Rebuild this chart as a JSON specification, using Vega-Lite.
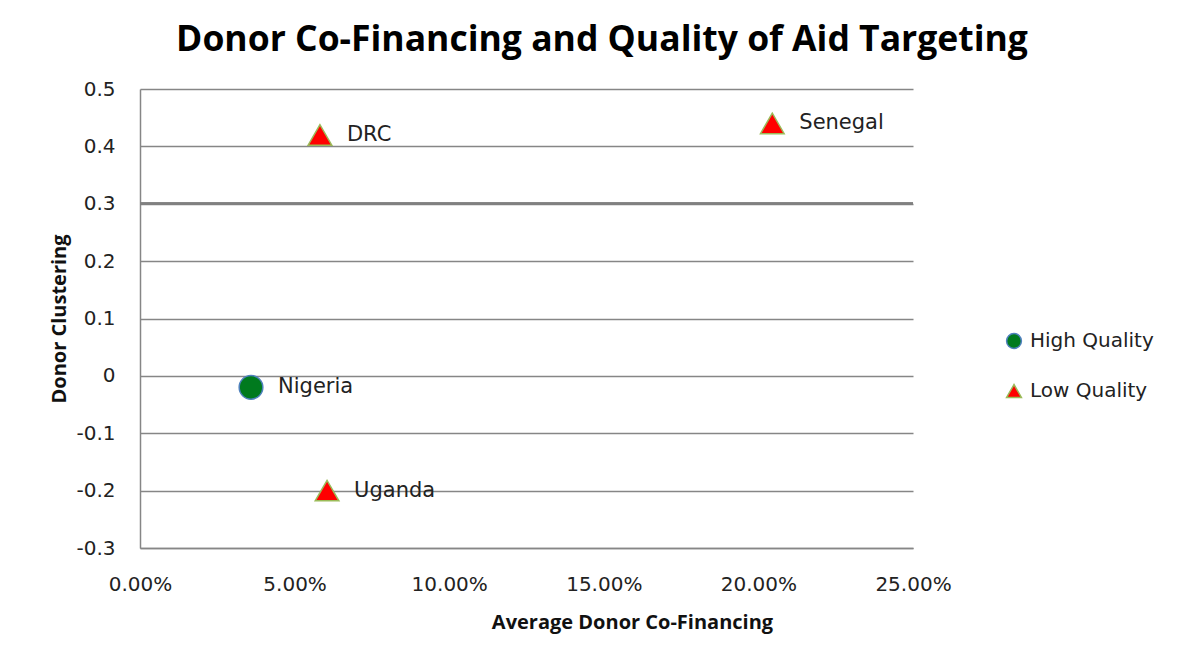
{
  "$schema": "https://vega.github.io/schema/vega-lite/v6.json",
  "width": 773,
  "height": 459,
  "padding": {"left": 49, "top": 22, "right": 10, "bottom": 10},
  "config": {
    "view": {"stroke": null},
    "font": "DejaVu Sans",
    "axis": {
      "gridColor": "#868686",
      "gridWidth": 1.5,
      "domainColor": "#868686",
      "domainWidth": 1.5,
      "ticks": false,
      "labelFont": "DejaVu Sans",
      "labelFontSize": 20,
      "labelColor": "#222222",
      "titleFont": "Open Sans",
      "titleFontSize": 20,
      "titleColor": "#111111",
      "titleFontWeight": "bold",
      "labelFlush": false,
      "labelOverlap": false
    }
  },
  "title": {
    "text": "Donor Co-Financing and Quality of Aid Targeting",
    "font": "Open Sans",
    "fontSize": 35.5,
    "fontWeight": "bold",
    "color": "#000000",
    "anchor": "middle",
    "frame": "bounds",
    "offset": 21
  },
  "data": {
    "values": [
      {"country": "Nigeria", "cofinancing": 0.0359, "clustering": -0.02, "quality": "High Quality"},
      {"country": "DRC", "cofinancing": 0.0582, "clustering": 0.42, "quality": "Low Quality"},
      {"country": "Senegal", "cofinancing": 0.2045, "clustering": 0.44, "quality": "Low Quality"},
      {"country": "Uganda", "cofinancing": 0.0605, "clustering": -0.2, "quality": "Low Quality"}
    ]
  },
  "layer": [
    {
      "mark": {"type": "rule", "color": "#808080", "strokeWidth": 2.5},
      "encoding": {"y": {"datum": 0.3, "type": "quantitative"}}
    },
    {
      "mark": {"type": "point", "filled": true, "opacity": 1, "strokeWidth": 1.5, "size": 560},
      "encoding": {
        "x": {
          "field": "cofinancing", "type": "quantitative",
          "scale": {"domain": [0, 0.25], "nice": false},
          "axis": {"values": [0, 0.05, 0.1, 0.15, 0.2, 0.25], "format": ".2%", "grid": false, "labelPadding": 26, "titlePadding": 18, "titleX": 492},
          "title": "Average Donor Co-Financing"
        },
        "y": {
          "field": "clustering", "type": "quantitative",
          "scale": {"domain": [-0.3, 0.5], "nice": false, "zero": false},
          "axis": {"values": [-0.3, -0.2, -0.1, 0, 0.1, 0.2, 0.3, 0.4, 0.5], "labelExpr": "toString(datum.value)", "grid": true, "labelPadding": 25, "titlePadding": 6},
          "title": "Donor Clustering"
        },
        "color": {
          "field": "quality", "type": "nominal",
          "scale": {"domain": ["High Quality", "Low Quality"], "range": ["#007A1E", "#FF0000"]},
          "legend": {
            "title": null, "orient": "none", "legendX": 864, "legendY": 242,
            "labelFont": "DejaVu Sans", "labelFontSize": 20, "labelColor": "#222222", "symbolSize": 220, "rowPadding": 29, "labelOffset": 6
          }
        },
        "shape": {
          "field": "quality", "type": "nominal",
          "scale": {"domain": ["High Quality", "Low Quality"], "range": ["circle", "triangle-up"]}
        },
        "stroke": {
          "field": "quality", "type": "nominal",
          "scale": {"domain": ["High Quality", "Low Quality"], "range": ["#4F81BD", "#9BBB59"]},
          "legend": null
        }
      }
    },
    {
      "mark": {"type": "text", "align": "left", "baseline": "middle", "dx": 27, "fontSize": 21, "font": "DejaVu Sans", "color": "#222222"},
      "encoding": {
        "x": {"field": "cofinancing", "type": "quantitative"},
        "y": {"field": "clustering", "type": "quantitative"},
        "text": {"field": "country"}
      }
    }
  ]
}
